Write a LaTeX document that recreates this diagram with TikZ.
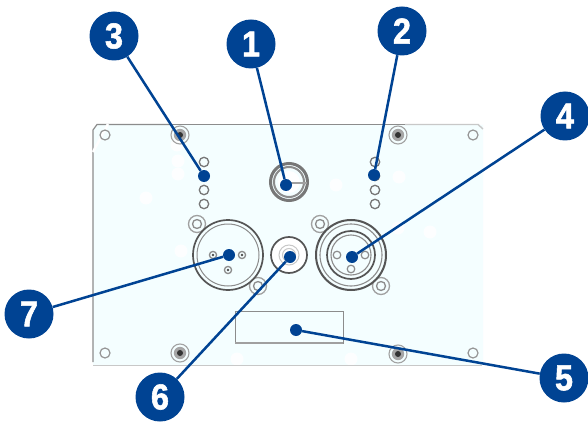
\documentclass[tikz,border=0pt]{standalone}
\usepackage{fontspec}
\setmainfont{Liberation Sans}
\newfontfamily\badgefont[FakeStretch=.9,FakeBold=1.5]{Liberation Sans Bold}
\definecolor{bluemain}{HTML}{004393}
\definecolor{panelfill}{HTML}{F4FEFF}
\definecolor{edgedark}{HTML}{8C8C8C}
\definecolor{edgelight}{HTML}{C8C8C8}
\definecolor{partline}{HTML}{555555}
\tikzset{
  badge/.style={circle,fill=bluemain,text=white,inner sep=0pt,minimum size=49pt,font=\badgefont\fontsize{36}{36}\selectfont},
  tipdot/.style={circle,fill=bluemain,inner sep=0pt,minimum size=12pt},
  leader/.style={draw=bluemain,line width=2.5pt},
  blob/.style={fill=white,draw=none,opacity=.85},
  ringpart/.style={draw=edgedark,line width=1.1pt},
  heavy/.style={draw=partline,line width=1.7pt},
  thinpart/.style={draw=edgedark,line width=1pt},
}
\newcommand{\screwat}[2]{%
  \draw[edgedark!80,line width=1.1pt] (#1,#2) circle (9);
  \fill[gray!70] (#1,#2) circle (6.2);
  \fill[black!80] (#1,#2) circle (3);
}
\newcommand{\earat}[2]{%
  \draw[edgelight!80!black,line width=1.3pt] (#1,#2) circle (8.5);
  \draw[edgedark,line width=1.3pt] (#1,#2) circle (4.5);
}
\begin{document}
\begin{tikzpicture}[x=1pt,y=-1pt]
\useasboundingbox (0,0) rectangle (588,422);
\fill[white] (0,0) rectangle (588,422);
% panel
\fill[panelfill] (98,125) -- (483,125) -- (483,365) -- (93,365) -- (93,130) -- cycle;
\foreach \x/\y in {146/198,177/145,178/161,178/174,181/251,336/185,399/177,430/232,398/228,237/359,351/359}
  \fill[blob] (\x,\y) circle (6.5);
% outline
\draw[edgedark,line width=1.2pt] (93,362) -- (93,130) -- (97,124.5) -- (170,124.5);
\draw[edgedark,line width=1.6pt] (170,124.5) -- (405,124.5);
\draw[edgelight,line width=1.4pt] (405,124.5) -- (478,124.5) -- (483,129);
\draw[edgelight,line width=.9pt] (93,365) -- (482,365);
\draw[white,line width=2.5pt] (108,124) -- (93,152);
% corner holes
\foreach \x/\y in {105/135,473/135,105/353,473/353}
  \draw[edgelight!75!black,line width=1.2pt] (\x,\y) circle (5);
% screws
\screwat{180}{135}
\screwat{398}{135}
\screwat{180}{353}
\screwat{398}{354}
% LEDs
\foreach \x in {204,375}
  \foreach \y in {162,176,190,204}
    \draw[partline!80,line width=1.3pt] (\x,\y) circle (4.7);
% knob
\draw[partline!80,line width=3pt] (289,182) circle (18.5);
\fill[white] (289,182) circle (11);
\draw[edgelight!70!black,line width=2pt] (289,182) circle (15);
\draw[edgelight!80!black,line width=1.5pt] (287,183) -- (307,183);
% left XLR
\earat{197}{224}
\earat{258}{286}
\draw[heavy] (228,255) circle (35);
\draw[thinpart] (228,255) circle (31);
\foreach \x/\y in {213/255,242/255,228/270}{
  \draw[edgedark,line width=1.3pt] (\x,\y) circle (3.6);
  \fill[black!70] (\x,\y) circle (1.3);
}
% centre socket
\fill[white] (289,255) circle (17);
\draw[heavy] (289,255) circle (18);
\draw[edgelight,line width=1pt] (289,255) circle (10);
\draw[edgelight,line width=1pt] (289,255) circle (6.5);
% right XLR
\earat{320}{224}
\earat{381}{286}
\draw[partline,line width=2pt] (351,255) circle (35);
\draw[ringpart] (351,255) circle (31);
\draw[heavy] (351,255) circle (24);
\draw[ringpart] (351,255) circle (20);
\foreach \x/\y in {337/255,365/255,351/269}
  \draw[edgedark,line width=1.2pt] (\x,\y) circle (3.8);
% label plate
\draw[edgedark,line width=.9pt] (235,311) rectangle (343,343);
\draw[edgelight!80!black,line width=1.5pt] (235,343) -- (343,343);
% badges and dots
\node[badge] (b1) at (251,44) {1};
\node[badge] (b2) at (402,31) {2};
\node[badge] (b3) at (114,36) {3};
\node[badge] (b4) at (565,116) {4};
\node[badge] (b5) at (564,378) {5};
\node[badge] (b6) at (160,397) {6};
\node[badge] (b7) at (29,314) {7};
\node[tipdot] (d1) at (286,185) {};
\node[tipdot] (d2) at (374,175) {};
\node[tipdot] (d3) at (204,176) {};
\node[tipdot] (d4) at (352,257) {};
\node[tipdot] (d5) at (296,330) {};
\node[tipdot] (d6) at (290,257) {};
\node[tipdot] (d7) at (229,255) {};
\foreach \n in {1,...,7}
  \draw[leader] (b\n) -- (d\n);
\end{tikzpicture}
\end{document}
